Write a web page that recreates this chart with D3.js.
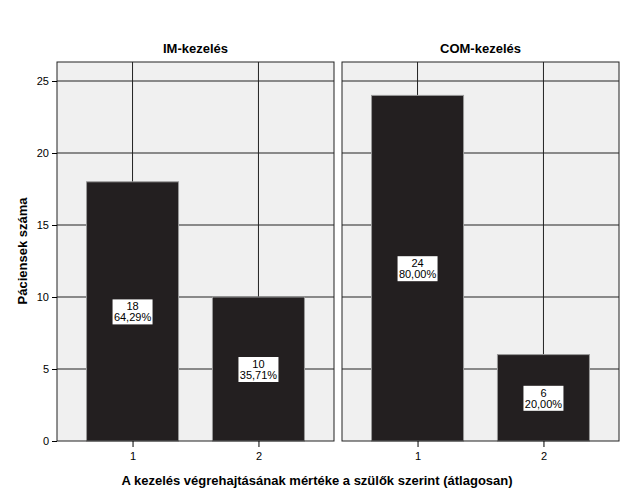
<!DOCTYPE html>
<html><head><meta charset="utf-8">
<script src="https://cdn.jsdelivr.net/npm/d3@7"></script>
<style>body{margin:0;background:#fff}text{font-family:Arial,"Liberation Sans",sans-serif}</style>
</head><body><svg id="c" width="625" height="500"></svg>
<script>
const panels = ["IM-kezelés", "COM-kezelés"];
const categories = ["1", "2"];
const imValues = [18, 10];
const comValues = [24, 6];
const imPct = ["64,29%", "35,71%"];
const comPct = ["80,00%", "20,00%"];
const yTicks = [0, 5, 10, 15, 20, 25];

const svg = d3.select("#c");
const plotTop = 62, plotBottom = 441, pw = 277;
const px = [57, 342];
const y = d3.scaleLinear().domain([0, 25]).range([plotBottom, 81]);
const data = [[imValues, imPct], [comValues, comPct]];

panels.forEach((name, i) => {
  const x = d3.scalePoint().domain(categories).range([px[i], px[i] + pw]).padding(0.6);
  const g = svg.append("g");
  g.append("rect").attr("x", px[i]).attr("y", plotTop).attr("width", pw).attr("height", plotBottom - plotTop).attr("fill", "#f0f0f0");
  g.selectAll(".hg").data(yTicks.slice(1)).enter().append("line")
    .attr("x1", px[i]).attr("x2", px[i] + pw).attr("y1", d => y(d)).attr("y2", d => y(d)).attr("stroke", "#222").attr("stroke-width", 1);
  g.selectAll(".vg").data(categories).enter().append("line")
    .attr("x1", d => x(d)).attr("x2", d => x(d)).attr("y1", plotTop).attr("y2", plotBottom).attr("stroke", "#222");
  const [vals, pct] = data[i];
  const bw = 92;
  g.selectAll(".bar").data(categories).enter().append("rect")
    .attr("x", d => x(d) - bw / 2).attr("width", bw)
    .attr("y", (d, j) => y(vals[j])).attr("height", (d, j) => plotBottom - y(vals[j]))
    .attr("fill", "#231f20").attr("stroke", "#999").attr("stroke-width", 1);
  categories.forEach((c, j) => {
    const cy = (y(vals[j]) + plotBottom) / 2;
    g.append("rect").attr("x", x(c) - 20).attr("y", cy - 12).attr("width", 40).attr("height", 25).attr("fill", "#fff");
    g.append("text").attr("x", x(c)).attr("y", cy - 1).attr("text-anchor", "middle").attr("font-size", 11).text(vals[j]);
    g.append("text").attr("x", x(c)).attr("y", cy + 10).attr("text-anchor", "middle").attr("font-size", 11).text(pct[j]);
  });
  g.append("rect").attr("x", px[i]).attr("y", plotTop).attr("width", pw).attr("height", plotBottom - plotTop).attr("fill", "none").attr("stroke", "#222");
  g.append("text").attr("x", px[i] + pw / 2).attr("y", 53).attr("text-anchor", "middle").attr("font-size", 13).attr("font-weight", "bold").text(name);
  const ax = g.append("g").attr("transform", `translate(0,${plotBottom})`).call(d3.axisBottom(x).tickSize(6).tickSizeOuter(0));
  ax.select(".domain").remove();
  ax.selectAll("text").attr("font-size", 11).attr("font-family", "Arial,Liberation Sans,sans-serif").attr("dy", "0.9em");
});
const ay = svg.append("g").attr("transform", `translate(${px[0]},0)`).call(d3.axisLeft(y).tickValues(yTicks).tickSize(5).tickSizeOuter(0));
ay.select(".domain").remove();
ay.selectAll("text").attr("font-size", 11).attr("font-family", "Arial,Liberation Sans,sans-serif");
svg.append("text").attr("transform", "translate(27,251) rotate(-90)").attr("text-anchor", "middle").attr("font-size", 13).attr("font-weight", "bold").text("Páciensek száma");
svg.append("text").attr("x", 317).attr("y", 485).attr("text-anchor", "middle").attr("font-size", 13).attr("font-weight", "bold").text("A kezelés végrehajtásának mértéke a szülők szerint (átlagosan)");
</script></body></html>
